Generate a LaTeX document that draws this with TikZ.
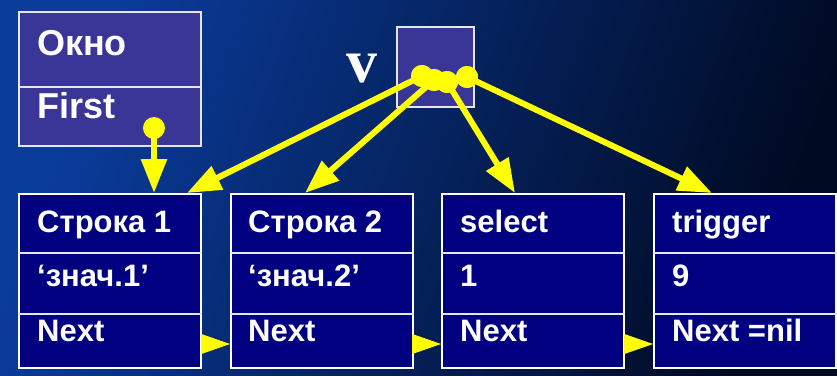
\documentclass[tikz,border=0pt]{standalone}
\usepackage{fontspec}
\setmainfont{Liberation Sans}
\newfontfamily\labelfont{Liberation Serif}
\usetikzlibrary{arrows.meta,calc}

\definecolor{bgA}{HTML}{0A3C9C}
\definecolor{bgB}{HTML}{000A22}
\definecolor{recfill}{HTML}{000080}
\definecolor{ptrfill}{HTML}{3A3698}
\definecolor{ptr}{HTML}{FFFF00}
\definecolor{rule}{HTML}{E6E6F0}

\begin{document}
\begin{tikzpicture}[x=1pt,y=-1pt,
  record/.style={draw=white, line width=2pt, fill=recfill, inner sep=0pt,
    minimum width=182pt, minimum height=174pt, anchor=north west},
  holder/.style={draw=rule, line width=1.6pt, fill=ptrfill, inner sep=0pt, anchor=north west},
  divider/.style={draw=rule, line width=1.6pt},
  field/.style={anchor=base west, inner sep=0pt, text=white,
    font=\bfseries\fontsize{31}{31}\selectfont},
  bigfield/.style={anchor=base west, inner sep=0pt, text=white,
    font=\bfseries\fontsize{36}{36}\selectfont},
  dot/.style={circle, fill=ptr, inner sep=0pt, minimum size=22pt},
  ptrline/.style={draw=ptr, line width=6pt,
    -{Triangle[length=34pt,width=25pt]}},
  nextptr/.style={draw=ptr, fill=ptr, line width=1pt,
    -{Triangle[length=29pt,width=20pt]}}
]
% background
\useasboundingbox (0,0) rectangle (837,375);
\shade[bottom color=bgB, top color=bgA, shading angle=70] (0,0) rectangle (837,375);

% window record
\node[holder, minimum width=182pt, minimum height=134pt] (win) at (18,11) {};
\draw[divider] ($(win.north west)+(0,76)$) -- ($(win.north east)+(0,76)$);
\node[bigfield] (winname) at (37,55) {Окно};
\node[bigfield] (winfirst) at (37,118) {First};

% variable v
\node[holder, minimum width=77pt, minimum height=80pt] (vbox) at (396,26) {};
\node[anchor=base west, inner sep=0pt, text=white,
  font=\labelfont\bfseries\fontsize{62}{62}\selectfont] (vlabel) at (346,82) {v};

% list records
\foreach \i/\x in {1/18, 2/230, 3/441, 4/653}{
  \node[record] (r\i) at (\x,193) {};
  \draw[divider] ($(r\i.north west)+(0,60)$) -- ($(r\i.north east)+(0,60)$);
  \draw[divider] ($(r\i.north west)+(0,121)$) -- ($(r\i.north east)+(0,121)$);
}
\node[field] (n1a) at (37,232) {Строка 1};
\node[field] (n1b) at (37,286) {‘знач.1’};
\node[field] (n1c) at (37,341) {Next};
\node[field] (n2a) at (248,232) {Строка 2};
\node[field] (n2b) at (248,286) {‘знач.2’};
\node[field] (n2c) at (248,341) {Next};
\node[field] (n3a) at (460,232) {select};
\node[field] (n3b) at (460,286) {1};
\node[field] (n3c) at (460,341) {Next};
\node[field] (n4a) at (672,232) {trigger};
\node[field] (n4b) at (672,286) {9};
\node[field] (n4c) at (672,341) {Next =nil};

% pointer origins
\node[dot] (d0) at (154,128) {};
\node[dot] (d1) at (422,76) {};
\node[dot] (d2) at (434,80) {};
\node[dot] (d3) at (447,82) {};
\node[dot] (d4) at (467,77) {};

% pointer targets on the record tops
\coordinate (t0) at (d0 |- r1.north);
\coordinate (t1) at ($(r1.north east)+(-15,0)$);
\coordinate (t2) at ($(r2.north west)+(75,0)$);
\coordinate (t3) at ($(r3.north west)+(74,0)$);
\coordinate (t4) at ($(r4.north west)+(59,0)$);

\draw[ptrline] (d0.center) -- (t0);
\draw[ptrline] (d1.center) -- (t1);
\draw[ptrline] (d2.center) -- (t2);
\draw[ptrline] (d3.center) -- (t3);
\draw[ptrline] (d4.center) -- (t4);

% redraw origins above the shafts
\foreach \d in {d1,d2,d3,d4}{
  \fill[ptr] (\d.center) circle (11pt);
}

% Next links
\foreach \a/\b in {r1/r2, r2/r3, r3/r4}{
  \draw[nextptr] ($(\a.north east)+(1,151)$) -- ($(\b.north west)+(0,151)$);
}
\end{tikzpicture}
\end{document}
